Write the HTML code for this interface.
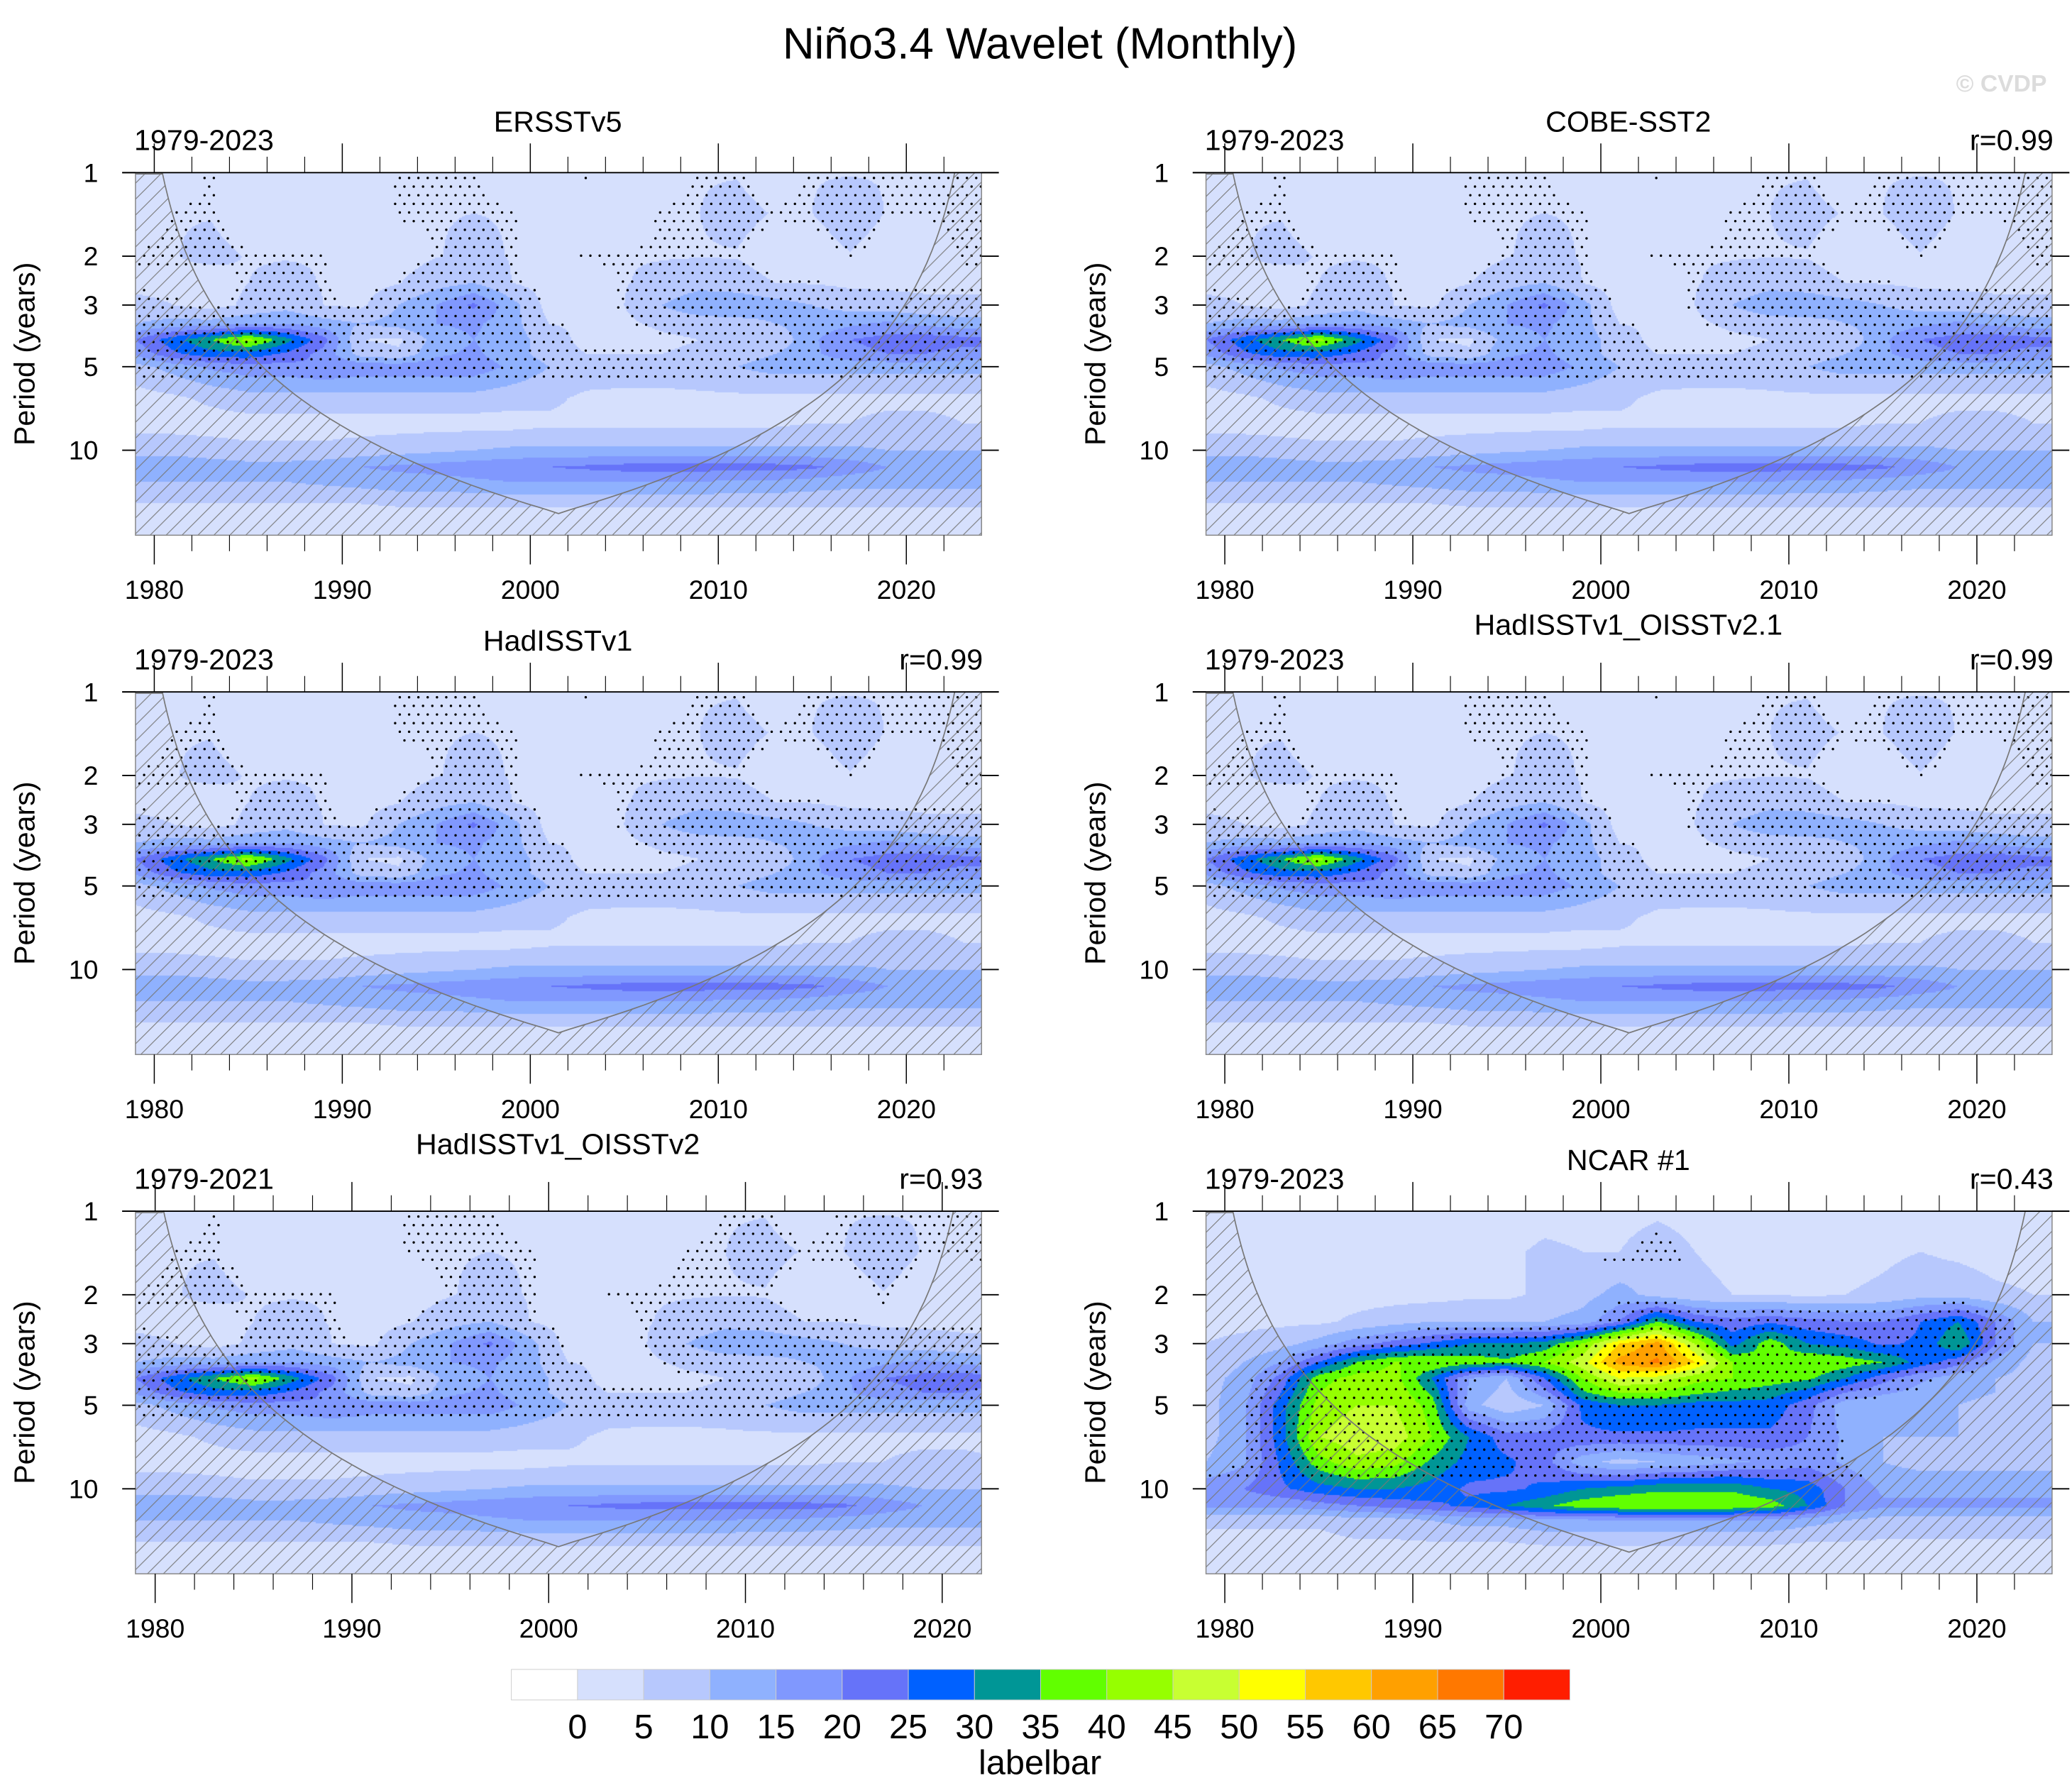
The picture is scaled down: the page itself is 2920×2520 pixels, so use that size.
<!DOCTYPE html>
<html><head><meta charset="utf-8">
<style>
html,body{margin:0;padding:0;background:#fff;}
#wrap{position:relative;width:2920px;height:2520px;overflow:hidden;}
canvas,svg{position:absolute;left:0;top:0;}
text{font-family:"Liberation Sans",Arial,sans-serif;}
</style></head><body>
<div id="wrap">
<canvas id="cv" width="2920" height="2520"></canvas>
<svg id="sv" width="2920" height="2520" viewBox="0 0 1560 1346.3"></svg>
</div>
<script>
// ---- data ----
const periods = [1,1.4,2,2.5,3,3.5,4,4.5,5,6.5,8,10,11.5,13,16,20];
const years = [1979,1981,1983,1985,1987,1989,1991,1993,1995,1997,1999,2001,2003,2005,2007,2009,2011,2013,2015,2017,2019,2021,2023];
const obsPower = [
[3,3,4.8,3,3,3,3,4.8,4.8,4.8,3,3,4.8,3,3,4.8,4.8,3,4.8,4.8,4.8,4.8,4.8],
[3,4.8,4.8,3,3,3,3,4.8,4.8,5,4.8,3,3,3,4.8,5,6,4.8,5,7,4.8,4.8,4.8],
[4.8,4.8,6,4.8,4.8,4.8,3,3,4.8,6,4.8,3,4.8,4.8,4.8,4.8,4.8,3,3,4.8,3,3,4.8],
[4,4,3,5,6,4.8,3,4.8,8,10,5,3,3,4.8,6,8,7,5,4.8,4,4,4,4],
[6,5,3,6,8,5,4,10,15,21,12,3,3,5,10,14,14,12,10,8,7,6,6],
[10,12,12,14,15,12,10,12,15,16,12,5,4,4,6,7,8,10,12,14,16,14,12],
[20,28,35,42,32,22,5,4,12,15,12,8,3,3,4,5,5,6,14,20,22,23,22],
[16,24,28,28,24,18,8,6,14,16,12,8,5,5,5,6,8,10,14,18,20,20,18],
[8,12,16,18,18,20,18,18,18,18,14,10,8,7,7,8,10,12,12,12,12,12,12],
[3,4,6,8,8,8,8,8,8,8,7,6,4,4,4,4,4,4,4,4,4,4,4],
[3,3,3,3,3,3,3,3,3,3,3,4,4,4,4,4,4,4,5,5,6,6,5],
[8,8,7,6,6,6,7,8,9,10,11,11,11,11,11,11,11,11,11,11,10,10,10],
[13,14,13,12,12,13,15,16,17,18,19,20,21,22,22,22,22,22,21,18,15,14,14],
[10,10,10,10,10,11,12,13,13,14,15,15,15,15,15,15,14,14,13,12,12,12,12],
[4,4,4,4,4,4,4,5,5,5,5,5,5,5,5,5,5,5,5,5,5,5,5],
[3,3,3,3,3,3,3,3,3,3,3,3,3,3,3,3,3,3,3,3,3,3,3]];
const ncarPower = [
[2,2,2,2,2,2,2,2,2,3,3,3,4,3,2,2,2,2,2,2,2,2,2],
[3,3,3,3,3,3,3,3,4,6,5,5,8,5,4,3,3,3,4,5,4,3,3],
[5,5,3,3,3,3,3,4,4,6,8,12,8,6,5,5,4,5,6,8,8,6,5],
[4,4,4,4,6,8,10,10,10,10,12,20,35,25,22,24,22,20,20,25,30,20,10],
[5,6,8,12,18,22,26,30,30,32,40,55,62,45,28,38,30,28,24,26,35,20,10],
[6,10,15,25,35,40,40,38,36,40,48,62,66,55,40,35,40,38,35,28,22,14,8],
[8,12,22,38,42,42,30,15,10,25,40,50,48,42,40,38,36,30,22,16,12,10,8],
[8,13,25,40,44,44,34,14,8,18,34,40,40,36,34,32,28,20,16,13,11,10,8],
[8,14,28,42,45,45,38,12,6,10,26,30,30,28,28,28,22,12,10,10,10,9,8],
[8,14,28,45,48,48,40,30,22,22,24,24,24,24,24,24,20,14,10,10,10,9,8],
[10,14,26,38,44,42,34,28,26,22,12,8,10,12,14,16,18,14,10,8,8,8,8],
[18,20,24,28,30,30,28,24,24,26,30,32,34,34,34,30,28,20,14,14,14,14,14],
[16,16,16,18,20,22,24,26,30,34,38,40,40,40,40,38,30,20,16,16,16,16,16],
[6,6,6,6,8,8,10,12,12,14,14,14,14,14,14,14,12,10,8,8,8,8,8],
[3,3,3,3,4,4,4,4,4,5,5,5,5,5,5,5,4,4,4,4,4,4,4],
[2,2,2,2,2,2,2,2,2,2,2,2,2,2,2,2,2,2,2,2,2,2,2]];
const panelNames = ["ERSSTv5","COBE-SST2","HadISSTv1","HadISSTv1_OISSTv2.1","HadISSTv1_OISSTv2","NCAR #1"];
const panelRanges = ["1979-2023","1979-2023","1979-2023","1979-2023","1979-2021","1979-2023"];
const panelCorr = ["","r=0.99","r=0.99","r=0.99","r=0.93","r=0.43"];
const panelEndYears = [2024,2024,2024,2024,2022,2024];
const levelLabels = ["0","5","10","15","20","25","30","35","40","45","50","55","60","65","70"];
const levelColors = ["#ffffff","#d6e0fd","#b7c8fd","#8fb1fe","#8098fe","#6673f9","#0061ff","#009696","#61ff00","#96ff00","#c8ff32","#ffff00","#ffc800","#ffa000","#ff7800","#ff1e00"];
const yTicks = [1,2,3,5,10];
const xTicks = [1980,1990,2000,2010,2020];

// ---- layout ----
const S = 2920/1560;
const W = 637, H = 273, DEC = 209;
const px0 = [102,908], py0 = [130,521,912];
const NS = "http://www.w3.org/2000/svg";
const sv = document.getElementById('sv');
function mk(tag, attrs, parent){const e=document.createElementNS(NS,tag);for(const k in attrs)e.setAttribute(k,attrs[k]);(parent||sv).appendChild(e);return e;}
function colorIdx(v){if(v<0)return 0;return Math.min(15,Math.floor(v/5)+1);}
function sample(grid, t, p){
  let fi=(t-years[0])/2; fi=Math.max(0,Math.min(years.length-1.0001,fi));
  const i=Math.floor(fi), ft=fi-i;
  const lp=Math.log10(p); let j=0;
  if(lp<=0){j=0;} else {while(j<periods.length-2 && Math.log10(periods[j+1])<lp) j++;}
  let fp=(lp-Math.log10(periods[j]))/(Math.log10(periods[j+1])-Math.log10(periods[j]));
  fp=Math.max(0,Math.min(1,fp));
  const a=grid[j][i]*(1-ft)+grid[j][i+1]*ft, b=grid[j+1][i]*(1-ft)+grid[j+1][i+1]*ft;
  return a*(1-fp)+b*fp;
}
const ctx=document.getElementById('cv').getContext('2d');
const defs=mk('defs',{});
const pat=mk('pattern',{id:'hatch',patternUnits:'userSpaceOnUse',width:12,height:12},defs);
mk('path',{d:'M-1,13 L13,-1 M-7,7 L7,-7 M5,19 L19,5',stroke:'#777',"stroke-width":0.6},pat);

for(let k=0;k<6;k++){
  const x0=px0[k%2], y0=py0[Math.floor(k/2)], end=panelEndYears[k];
  const grid = k===5 ? ncarPower : obsPower;
  const tx=t=>x0+(t-1979)/(end-1979)*W;
  const py=p=>y0+Math.log10(p)*DEC;
  const dx0=Math.round(x0*S), dx1=Math.round((x0+W)*S), dy0=Math.round(y0*S), dy1=Math.round((y0+H)*S);
  for(let dy=dy0;dy<dy1;dy+=2){
    const yy=(dy+1)/S-y0;
    const p=Math.pow(10,yy/DEC);
    let runStart=dx0, runC=-1;
    for(let dx=dx0;dx<=dx1;dx+=2){
      let c=-2;
      if(dx<dx1){const t=1979+((dx+1)/S-x0)/W*(end-1979); c=colorIdx(sample(grid,t,p));}
      if(c!==runC){ if(runC>=0){ctx.fillStyle=levelColors[runC];ctx.fillRect(runStart,dy,dx-runStart,Math.min(2,dy1-dy));} runC=c; runStart=dx; }
    }
  }
  const g=mk('g',{});
  
  
  let dots='';
  for(let yy=4,r=0;yy<H;yy+=6.5,r++){
    for(let xx=3+(r%2)*3.5;xx<W;xx+=7){
      const p=Math.pow(10,yy/DEC), t=1979+xx/W*(end-1979);
      const v=sample(grid,t,p);
      const sig = k===5 ? (v>=14 && p<9) || (v>=6 && p<1.6) : (v>=4.5 && p<5.6);
      if(sig) dots+=`M${(x0+xx).toFixed(1)},${(y0+yy).toFixed(1)}h0.01`;
    }
  }
  const st=mk('path',{d:dots,stroke:'#000',"stroke-width":1.8,"stroke-linecap":"round",fill:'none'},g);
  
  
  const kc=1.33, mid=1979+(end-1979)/2;
  let L=[],R=[];
  for(let i=0;i<=60;i++){
    const lp=i/60*Math.log10(20); const p=Math.pow(10,lp);
    const dt=kc*p; if(1979+dt>mid) break;
    L.push([tx(1979+0.1+dt),py(p)]); R.push([tx(end-0.1-dt),py(p)]);
  }
  const ymax=y0+H;
  const vtx=[tx(mid),Math.min(ymax,py((mid-1979)/kc))];
  const leftPoly=[[x0,y0],[x0+20,y0]].concat(L).concat([vtx]);
  const rightPoly=R.slice().reverse();
  const all=[[x0,y0]].concat(leftPoly.slice(1)).concat(rightPoly).concat([[x0+W,y0],[x0+W,ymax],[x0,ymax]]);
  const hp=mk('path',{d:'M'+all.map(q=>q[0].toFixed(1)+','+q[1].toFixed(1)).join('L')+'Z',fill:'url(#hatch)',stroke:'none'},g);
  
  
  const line=[[x0,y0+1],[x0+20,y0+1]].concat(L).concat([vtx]).concat(rightPoly);
  const cl=mk('path',{d:'M'+line.map(q=>q[0].toFixed(1)+','+q[1].toFixed(1)).join('L'),fill:'none',stroke:'#777',"stroke-width":0.9},g);
  
  
  mk('rect',{x:x0,y:y0,width:W,height:H,fill:'none',stroke:'#888',"stroke-width":0.8},g);
  mk('line',{x1:x0-10,y1:y0,x2:x0+W+13,y2:y0,stroke:'#000',"stroke-width":1},g);
  yTicks.forEach(p=>{
    const y=py(p);
    mk('line',{x1:x0-10,y1:y,x2:x0,y2:y,stroke:'#000',"stroke-width":1},g);
    mk('line',{x1:x0+W,y1:y,x2:x0+W+13,y2:y,stroke:'#000',"stroke-width":1},g);
    const t=mk('text',{x:x0-28,y:y+7,"font-size":20,"text-anchor":"end"},g); t.textContent=p;
  });
  for(let yr=1980;yr<end;yr+=2){
    const x=tx(yr), major=yr%10===0;
    mk('line',{x1:x,y1:y0+H,x2:x,y2:y0+H+(major?22:12),stroke:'#000',"stroke-width":major?0.8:0.6},g);
    mk('line',{x1:x,y1:y0,x2:x,y2:y0-(major?22:12),stroke:'#000',"stroke-width":major?0.8:0.6},g);
  }
  xTicks.forEach(yr=>{const t=mk('text',{x:tx(yr),y:y0+H+48,"font-size":20,"text-anchor":"middle"},g);t.textContent=yr;});
  const yl=mk('text',{x:0,y:0,"font-size":22,"text-anchor":"middle",transform:`translate(${x0-76},${y0+H/2}) rotate(-90)`},g);
  yl.textContent='Period (years)';
   
  const tt=mk('text',{x:x0+318,y:y0-(k===3||k===4?43:31),"font-size":22,"text-anchor":"middle"},g);
  tt.textContent=panelNames[k];
   
  const rg=mk('text',{x:x0-1,y:y0-17,"font-size":22},g); rg.textContent=panelRanges[k];
   
  if(panelCorr[k]){const rc=mk('text',{x:x0+W+1,y:y0-17,"font-size":22,"text-anchor":"end"},g);rc.textContent=panelCorr[k];
   }
}
const ti=mk('text',{x:783,y:44,"font-size":33,"text-anchor":"middle"});ti.textContent='Niño3.4 Wavelet (Monthly)';
 
const cp=mk('text',{x:1541,y:69,"font-size":18,"font-weight":"bold",fill:'#dcdcdc',"text-anchor":"end"});cp.textContent='© CVDP';
 
const cb=mk('g',{});
 
const bx=385, bw=797/16;
levelColors.forEach((c,i)=>{const r=mk('rect',{x:bx+i*bw,y:1257,width:bw,height:23,fill:c,stroke:'#ccc',"stroke-width":0.5},cb);
  });
levelLabels.forEach((l,i)=>{const t=mk('text',{x:bx+(i+1)*bw,y:1309,"font-size":26,"text-anchor":"middle"},cb);t.textContent=l;});
const lb=mk('text',{x:783,y:1336,"font-size":26,"text-anchor":"middle"},cb);lb.textContent='labelbar';
 
</script>
</body></html>
